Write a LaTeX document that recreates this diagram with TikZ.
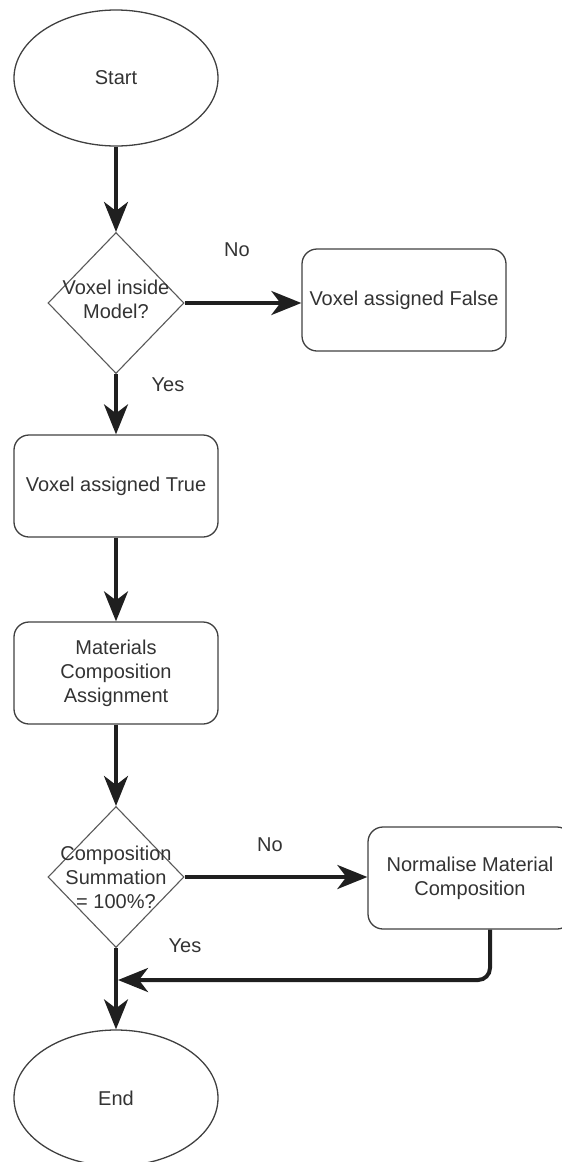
\documentclass[tikz,border=0pt]{standalone}
\usepackage{fontspec}
\setmainfont{Liberation Sans}
\usepackage{tikz}
\usetikzlibrary{arrows.meta, shapes.geometric}

\tikzset{
    txt/.style={text=black!80, font=\fontsize{20}{24}\selectfont, align=center},
    terminal/.style={ellipse, draw=black!75, line width=1.3pt, minimum width=204pt, minimum height=136pt, inner sep=0pt, txt},
    process/.style={rectangle, rounded corners=15pt, draw=black!75, line width=1.3pt, minimum width=204pt, minimum height=102pt, inner sep=0pt, txt},
    decision/.style={diamond, draw=black!65, line width=1.1pt, minimum width=136pt, minimum height=141pt, inner sep=0pt},
    flow/.style={-{Stealth[length=30pt, width=24pt, inset=9pt]}, line width=4pt, draw=black!88},
}

\begin{document}
\begin{tikzpicture}[x=1pt, y=-1pt]
    \useasboundingbox (0,0) rectangle (562,1162);

    % Start and first test
    \node[terminal] (start) at (116,78) {Start};
    \node[decision] (inside) at (116,303) {};
    \node[txt] (insidetxt) at (116,299) {Voxel inside\\Model?};
    \node[process] (false) at (404,300) {Voxel assigned False};

    % Main column
    \node[process] (true) at (116,486) {Voxel assigned True};
    \node[process] (materials) at (116,673) {Materials\\Composition\\Assignment};

    % Second test
    \node[decision] (sum) at (116,877) {};
    \node[txt] (sumtxt) at (116,877) {Composition\\Summation\\= 100\%?};
    \node[process] (normalise) at (470,878) {Normalise Material\\Composition};

    \node[terminal] (end) at (116,1098) {End};

    % Branch labels
    \node[txt] (no1) at (237,250) {No};
    \node[txt] (yes1) at (168,385) {Yes};
    \node[txt] (no2) at (270,845) {No};
    \node[txt] (yes2) at (185,946) {Yes};

    % Connectors
    \draw[flow] (start) -- (inside);
    \draw[flow] (inside.east) -- (inside.east -| false.west);
    \draw[flow] (inside) -- (true);
    \draw[flow] (true) -- (materials);
    \draw[flow] (materials) -- (sum);
    \draw[flow] (sum.east) -- (sum.east -| normalise.west);
    \draw[flow] (sum) -- (end);

    % Return from normalise
    \coordinate (joint) at (118,980);
    \draw[flow, rounded corners=12pt] ([xshift=20pt]normalise.south) |- (joint);
\end{tikzpicture}
\end{document}
